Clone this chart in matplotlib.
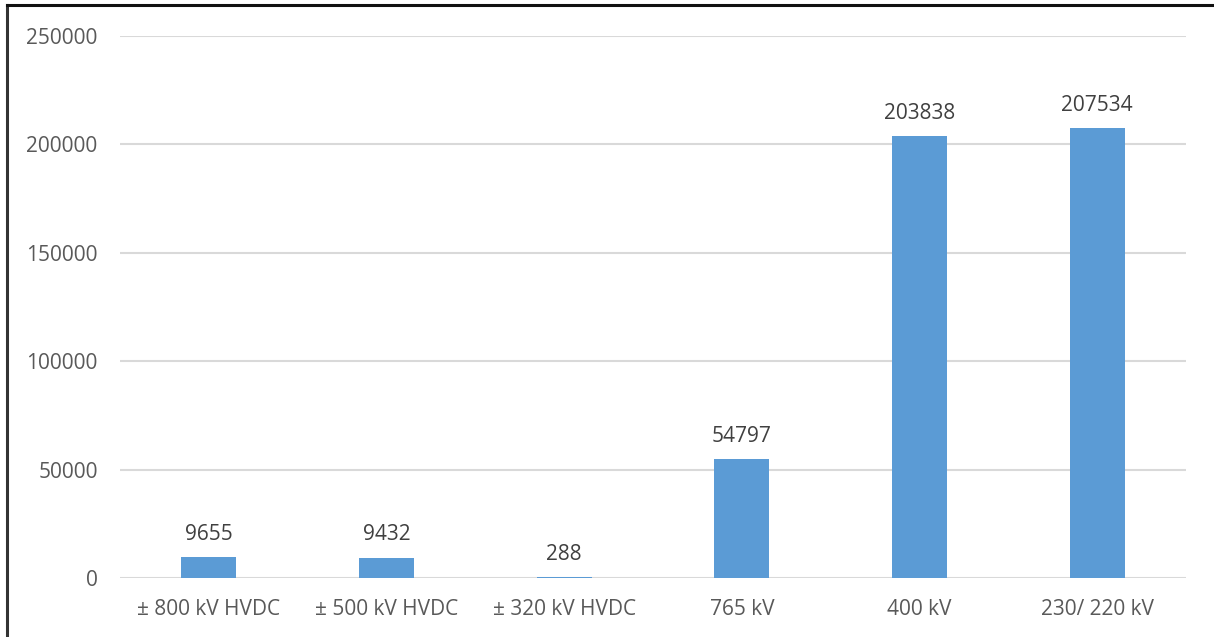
import matplotlib
matplotlib.use("Agg")
import matplotlib.pyplot as plt
from matplotlib.lines import Line2D

categories = ["± 800 kV HVDC", "± 500 kV HVDC", "± 320 kV HVDC",
              "765 kV", "400 kV", "230/ 220 kV"]
values = [9655, 9432, 288, 54797, 203838, 207534]
yticks = [0, 50000, 100000, 150000, 200000, 250000]

plt.rcParams["font.family"] = ["Open Sans", "DejaVu Sans"]

fig = plt.figure(figsize=(12.14, 6.37), dpi=100)
ax = fig.add_axes([0.0988, 0.0926, 0.8782, 0.8509])

x = range(len(categories))
bars = ax.bar(x, values, width=0.31, color="#5B9BD5", zorder=3)
for b, v in zip(bars, values):
    ax.annotate(f"{v}", (b.get_x() + b.get_width() / 2, v),
                xytext=(0, 9), textcoords="offset points",
                ha="center", va="bottom", fontsize=15, color="#404040")

ax.set_xlim(-0.5, len(categories) - 0.5)
ax.set_ylim(0, 250000)
ax.set_yticks(yticks)
ax.set_yticklabels([str(t) for t in yticks])
ax.set_xticks(list(x))
ax.set_xticklabels(categories)
ax.tick_params(axis="both", length=0, labelsize=15, labelcolor="#595959")
ax.tick_params(axis="y", pad=16)
ax.tick_params(axis="x", pad=15)
ax.grid(axis="y", color="#D9D9D9", linewidth=1.5, zorder=0)
for s in ax.spines.values():
    s.set_visible(False)

# outer frame (only top and left visible in the crop)
fig.add_artist(Line2D([0.0054, 0.0054], [0, 0.992], transform=fig.transFigure,
                      color="#333333", linewidth=2.2))
fig.add_artist(Line2D([0.0054, 1], [0.992, 0.992], transform=fig.transFigure,
                      color="#111111", linewidth=2.2))

fig.savefig("out.png", dpi=100)
